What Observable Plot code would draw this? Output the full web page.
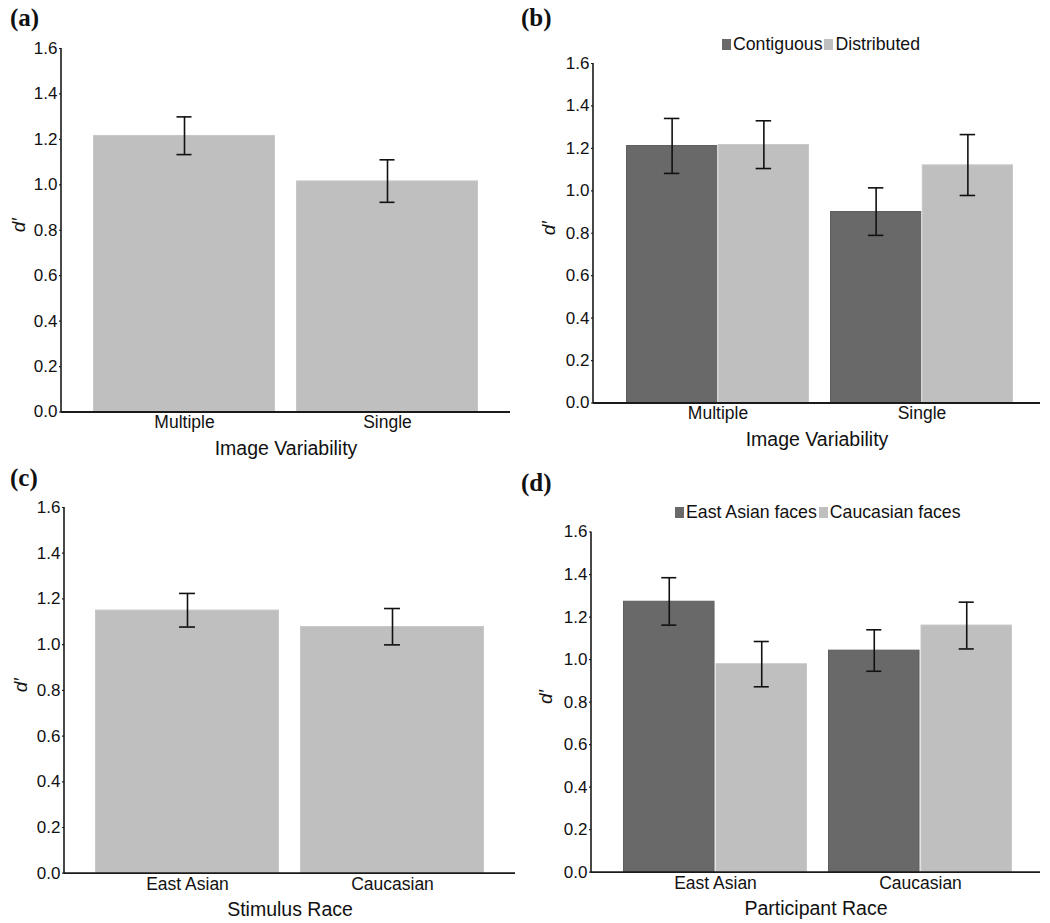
<!DOCTYPE html>
<html><head><meta charset="utf-8">
<script src="https://cdn.jsdelivr.net/npm/d3@7"></script>
<script src="https://cdn.jsdelivr.net/npm/@observablehq/plot@0.6"></script>
<style>
body{margin:0;background:#fff;}
#root{position:relative;width:1050px;height:923px;font-family:"Liberation Sans",Arial,sans-serif;color:#111;}
.panel{position:absolute;}
.tag{position:absolute;font-family:"Liberation Serif","Times New Roman",serif;font-weight:bold;font-size:25px;line-height:1;color:#111;}
.legend{position:absolute;font-size:17.7px;display:flex;align-items:center;line-height:1;color:#111;white-space:nowrap;}
.sw{display:inline-block;width:9px;height:11px;margin:0 2px 0 0;}
.sw2{margin-left:2px;}
</style></head><body><div id="root"></div>
<script>
// ---- data ----
const yTicks = [0, 0.2, 0.4, 0.6, 0.8, 1.0, 1.2, 1.4, 1.6];
const seriesColors = ["#696969", "#bfbfbf"];
const seriesEdges = ["#5f5f5f", "#c8c8c8"];

// (a) Image variability
const groupsA = ["Multiple", "Single"];
const meanA = [1.215, 1.015];
const loA = [1.133, 0.923];
const hiA = [1.299, 1.110];

// (b) Image variability x spacing
const groupsB = ["Multiple", "Single"];
const seriesB = ["Contiguous", "Distributed"];
const meanBContig = [1.211, 0.900];
const loBContig = [1.082, 0.790];
const hiBContig = [1.341, 1.014];
const meanBDist = [1.216, 1.120];
const loBDist = [1.105, 0.978];
const hiBDist = [1.330, 1.265];

// (c) Stimulus race
const groupsC = ["East Asian", "Caucasian"];
const meanC = [1.149, 1.077];
const loC = [1.077, 0.999];
const hiC = [1.224, 1.158];

// (d) Participant race x stimulus race
const groupsD = ["East Asian", "Caucasian"];
const seriesD = ["East Asian faces", "Caucasian faces"];
const meanDEast = [1.272, 1.042];
const loDEast = [1.162, 0.945];
const hiDEast = [1.385, 1.140];
const meanDCauc = [0.978, 1.160];
const loDCauc = [0.872, 1.050];
const hiDCauc = [1.085, 1.270];

// ---- builder ----
const root = document.getElementById("root");

function rowsFor(groups, seriesIdx, means, lo, hi) {
  return groups.map((g, i) => ({group: g, s: seriesIdx, mean: means[i], lo: lo[i], hi: hi[i]}));
}

function panel(cfg) {
  const {groups, seriesData, xLabel, left, top, width, height, mt, mb, ml, mr, pi, po, align, dLabelDx, tag, tagLeft, tagTop, legend} = cfg;
  const nS = seriesData.length;
  const step = (width - ml - mr) / (groups.length - pi + 2 * po);
  const bw = step * (1 - pi);
  const capHalf = 8;
  const marks = [];
  seriesData.forEach((rows, k) => {
    const ci = nS === 1 ? 1 : k;
    const inL = nS === 2 && k === 1 ? bw / 2 : 0;
    const inR = nS === 2 && k === 0 ? bw / 2 : 0;
    const center = nS === 2 ? (k === 0 ? bw / 4 : 3 * bw / 4) : bw / 2;
    marks.push(Plot.barY(rows, {x: "group", y: "mean", fill: seriesColors[ci], stroke: seriesEdges[ci], strokeWidth: 1, insetLeft: inL + 0.5, insetRight: inR + 0.5}));
    marks.push(Plot.ruleX(rows, {x: "group", y1: "lo", y2: "hi", dx: center - bw / 2, stroke: "#111", strokeWidth: 1.6}));
    for (const key of ["lo", "hi"]) {
      marks.push(Plot.tickY(rows, {x: "group", y: key, stroke: "#111", strokeWidth: 1.6,
        insetLeft: center - capHalf, insetRight: bw - center - capHalf}));
    }
  });
  marks.push(Plot.ruleY([0], {stroke: "#1a1a1a", strokeWidth: 1.8}));
  marks.push(Plot.axisY({ticks: yTicks, tickFormat: ".1f", tickSize: 2, tickPadding: 2, label: null, fontSize: 17, stroke: "#222", strokeWidth: 1.2}));
  marks.push(Plot.axisX({tickSize: 0, tickPadding: 4, label: null, fontSize: 17.5}));
  marks.push(Plot.text(["d\u2032"], {frameAnchor: "left", dx: dLabelDx, dy: 2, rotate: -90, fontSize: 19, fontStyle: "italic", fill: "#111"}));
  marks.push(Plot.text([xLabel], {frameAnchor: "bottom", dy: 43, fontSize: 19.5, fill: "#111"}));

  const chart = Plot.plot({
    width, height,
    marginTop: mt, marginBottom: mb, marginLeft: ml, marginRight: mr,
    style: {fontFamily: "'Liberation Sans', Arial, sans-serif", color: "#111", background: "#fff"},
    x: {domain: groups, paddingInner: pi, paddingOuter: po, align},
    y: {domain: [0, 1.6]},
    marks
  });
  // left axis line drawn from the y scale
  const ys = chart.scale("y");
  d3.select(chart).append("line")
    .attr("x1", ml).attr("x2", ml)
    .attr("y1", ys.apply(1.6)).attr("y2", ys.apply(0) + 0.9)
    .attr("stroke", "#1a1a1a").attr("stroke-width", 1.6);

  const wrap = document.createElement("div");
  wrap.className = "panel";
  wrap.style.left = left + "px";
  wrap.style.top = top + "px";
  wrap.appendChild(chart);
  root.appendChild(wrap);

  const t = document.createElement("div");
  t.className = "tag";
  t.textContent = tag;
  t.style.left = tagLeft + "px";
  t.style.top = tagTop + "px";
  root.appendChild(t);

  if (legend) {
    const lg = document.createElement("div");
    lg.className = "legend";
    lg.style.left = legend.left + "px";
    lg.style.top = legend.top + "px";
    legend.names.forEach((name, k) => {
      const sw = document.createElement("span");
      sw.className = "sw" + (k > 0 ? " sw2" : "");
      sw.style.background = seriesColors[k];
      lg.appendChild(sw);
      const tx = document.createElement("span");
      tx.textContent = name;
      lg.appendChild(tx);
    });
    root.appendChild(lg);
  }
}

panel({
  groups: groupsA,
  seriesData: [rowsFor(groupsA, 0, meanA, loA, hiA)],
  xLabel: "Image Variability",
  left: 0, top: 0, width: 520, height: 465, mt: 48, mb: 53.5, ml: 61, mr: 10,
  pi: 0.103, po: 0.152, align: 0.5, dLabelDx: -43,
  tag: "(a)", tagLeft: 10, tagTop: 5
});

panel({
  groups: groupsB,
  seriesData: [rowsFor(groupsB, 0, meanBContig, loBContig, hiBContig), rowsFor(groupsB, 1, meanBDist, loBDist, hiBDist)],
  xLabel: "Image Variability",
  left: 520, top: 0, width: 530, height: 465, mt: 63, mb: 62.5, ml: 73, mr: 10,
  pi: 0.103, po: 0.144, align: 0.542, dLabelDx: -45,
  tag: "(b)", tagLeft: 521, tagTop: 5,
  legend: {left: 722, top: 36, names: seriesB}
});

panel({
  groups: groupsC,
  seriesData: [rowsFor(groupsC, 0, meanC, loC, hiC)],
  xLabel: "Stimulus Race",
  left: 0, top: 460, width: 525, height: 465, mt: 47, mb: 52.3, ml: 64, mr: 10,
  pi: 0.102, po: 0.151, align: 0.5, dLabelDx: -44,
  tag: "(c)", tagLeft: 10, tagTop: 465
});

panel({
  groups: groupsD,
  seriesData: [rowsFor(groupsD, 0, meanDEast, loDEast, hiDEast), rowsFor(groupsD, 1, meanDCauc, loDCauc, hiDCauc)],
  xLabel: "Participant Race",
  left: 520, top: 460, width: 530, height: 465, mt: 71.5, mb: 53.3, ml: 71, mr: 10,
  pi: 0.102, po: 0.141, align: 0.534, dLabelDx: -46,
  tag: "(d)", tagLeft: 521, tagTop: 470,
  legend: {left: 675, top: 504, names: seriesD}
});
</script>
</body></html>
